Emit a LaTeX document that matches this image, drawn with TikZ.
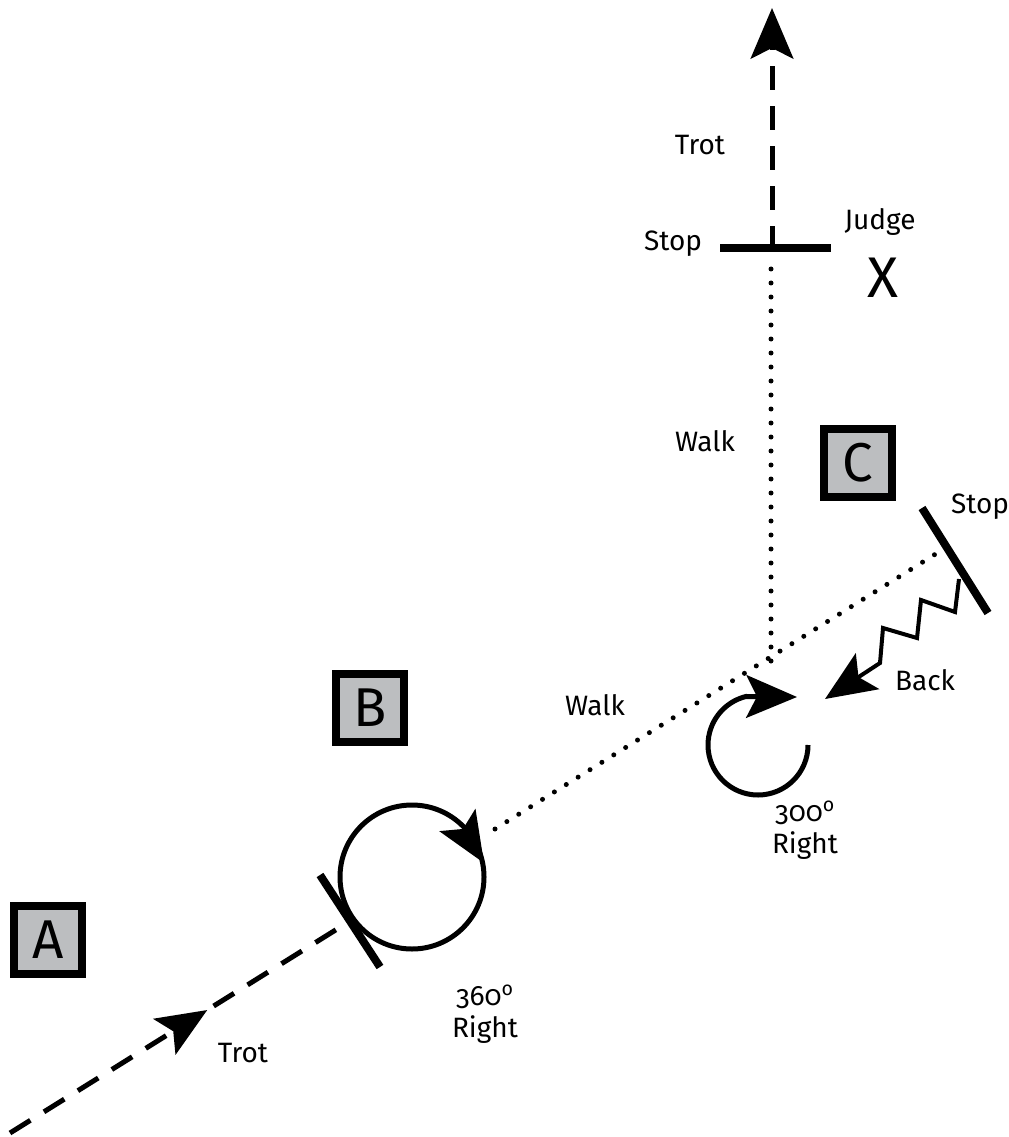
\documentclass[tikz,border=0pt]{standalone}
\usepackage{fontspec}
\setmainfont{Fira Sans}
\newfontfamily\osfont[Numbers=OldStyle]{Fira Sans}
\usepackage{tikz}
\usetikzlibrary{positioning}
\usetikzlibrary{arrows.meta}
\usetikzlibrary{decorations.markings}
\definecolor{boxgray}{HTML}{BCBEC0}
\tikzset{
  letterbox/.style={draw=black, fill=boxgray, line width=6pt, minimum size=51pt, inner sep=0pt, font=\fontsize{41}{41}\selectfont},
  lbl/.style={font=\fontsize{21}{24}\selectfont, inner sep=0pt, align=center},
  bigtip/.style={-{Stealth[length=38pt, width=32pt, inset=8pt]}},
  headat/.style={postaction={decorate}, decoration={markings, mark=at position #1 with {\arrow[line width=0pt]{Stealth[length=38pt, width=32pt, inset=8pt]}}}},
  trotline/.style={line width=3.75pt, dash pattern=on 18pt off 12pt},
  walkline/.style={line width=3.75pt, line cap=round, dash pattern=on 0pt off 10.5pt},
  stopbar/.style={line width=6pt},
  turnline/.style={line width=3.75pt}
}
\begin{document}
\begin{tikzpicture}[x=0.75pt, y=-0.75pt]
  \useasboundingbox (0,0) rectangle (1008,1137);
  % markers
  \node[letterbox] (A) at (48,940) {A};
  \node[letterbox] (B) at (370,708) {B};
  \node[letterbox] (C) at (858,463) {C};
  % trot in
  \coordinate (start) at (10,1133);
  \coordinate (stopB) at (350,921);
  \draw[trotline, headat=0.58] (start) -- (stopB);
  \draw[stopbar] (320,875) -- (380,967);
  % 360 circle
  \coordinate (cB) at (412,877);
  \draw[turnline] (cB) circle[radius=72];
  \path[headat=1] (458,821) -- (484,863);
  % walk to C
  \coordinate (walkA) at (495,829);
  \coordinate (walkB) at (942,550);
  \draw[walkline] (walkA) -- (walkB);
  \draw[stopbar] (922,508) -- (988,613);
  % back
  \draw[line width=3pt, bigtip] (959,579) -- (955,612) -- (921,600) -- (917,638) -- (883,628) -- (880,663) -- (825,699);
  % 300 turn
  \coordinate (cT) at (758,745);
  \draw[turnline, bigtip] (cT) ++(0:50) arc[start angle=0, end angle=256, radius=50] -- (797,697);
  % walk to X
  \draw[walkline] (771,661) -- (771,258);
  \draw[stopbar] (720,248) -- (831,248);
  \draw[trotline, bigtip] (772,250) -- (772,8);
  % labels
  \node[lbl] (trotTop) at (700,145) {Trot};
  \node[lbl] (stopTop) at (673,244) {Stop};
  \node[lbl] (judge) at (880,222) {Judge};
  \node[font=\fontsize{43}{43}\selectfont, inner sep=0pt] (X) at (883,278) {X};
  \node[lbl] (walkTop) at (705,441) {Walk};
  \node[lbl] (stopC) at (980,507) {Stop};
  \node[lbl] (walkLow) at (595,705) {Walk};
  \node[lbl] (back) at (925,680) {Back};
  \node[lbl] (deg300) at (805,830) {{\osfont 300}\textsuperscript{o}\\Right};
  \node[lbl] (deg360) at (485,1014) {{\osfont 360}\textsuperscript{o}\\Right};
  \node[lbl] (trotLow) at (243,1053) {Trot};
\end{tikzpicture}
\end{document}
